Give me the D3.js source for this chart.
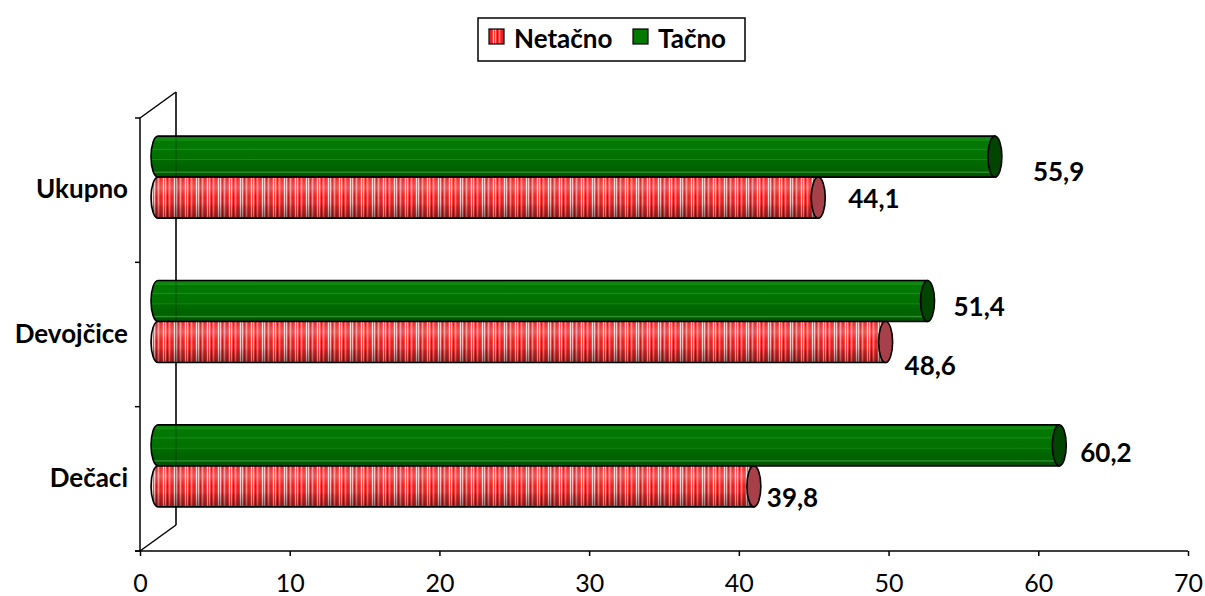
<!DOCTYPE html>
<html>
<head>
<meta charset="utf-8">
<script src="https://cdn.jsdelivr.net/npm/d3@7"></script>
<style>
  html, body { margin: 0; padding: 0; background: #fff; }
  svg { display: block; font-family: Lato, "Liberation Sans", sans-serif; }
</style>
</head>
<body>
<svg id="chart" width="1205" height="596"></svg>
<script>
// ---- data ----
const categories = ["Ukupno", "Devojčice", "Dečaci"];   // top to bottom
const seriesNames = ["Tačno", "Netačno"];                 // upper bar, lower bar
const tacno   = [55.9, 51.4, 60.2];
const netacno = [44.1, 48.6, 39.8];
const xTicks  = [0, 10, 20, 30, 40, 50, 60, 70];
const legendOrder = ["Netačno", "Tačno"];

// ---- layout ----
const W = 1205, H = 596;
const plot = { left: 140, right: 1188, top: 118, bottom: 551 };
const depth = { dx: 36, dy: -26 };          // 3-D back wall offset
const mid = { dx: depth.dx / 2, dy: depth.dy / 2 };
const barH = 41, capRx = 7;
// value label nudges relative to the bar's end cap, per series per category
const labelShift = {
  "Tačno":   [[38, 14], [26, 5], [21, 7]],
  "Netačno": [[30, 0], [19, 23], [13, 11]]
};

const svg = d3.select("#chart");
const defs = svg.append("defs");

const x = d3.scaleLinear().domain([0, 70]).range([plot.left, plot.right]);
const y = d3.scaleBand().domain(categories).range([plot.top, plot.bottom]);
const ySeries = d3.scaleBand().domain(seriesNames).range([-barH, barH]);

// ---- fills ----
const stripe = defs.append("pattern")
  .attr("id", "redStripe").attr("patternUnits", "userSpaceOnUse")
  .attr("width", 11).attr("height", 10);
stripe.append("rect").attr("width", 11).attr("height", 10).attr("fill", "#ff3c3c");
[[0, 1, "#ffb4b4"], [2, 1, "#c41414"], [4, 1, "#ff8a8a"], [6, 2, "#e02424"], [9, 1, "#ffd6d6"]]
  .forEach(([sx, sw, c]) => stripe.append("rect").attr("x", sx).attr("width", sw).attr("height", 10).attr("fill", c));

const shade = defs.append("linearGradient").attr("id", "shade")
  .attr("x1", 0).attr("y1", 0).attr("x2", 0).attr("y2", 1);
[[0, "#fff", 0.05], [0.25, "#fff", 0.25], [0.5, "#fff", 0.0], [0.72, "#000", 0.15], [1, "#000", 0.4]]
  .forEach(([o, c, a]) => shade.append("stop").attr("offset", o).attr("stop-color", c).attr("stop-opacity", a));

const green = defs.append("linearGradient").attr("id", "greenGrad")
  .attr("x1", 0).attr("y1", 0).attr("x2", 0).attr("y2", 1);
[[0, "#067e06"], [0.1, "#168c16"], [0.12, "#037703"], [0.3, "#047804"], [0.32, "#229122"], [0.34, "#027402"],
 [0.55, "#017001"], [0.57, "#188618"], [0.59, "#006c00"], [0.85, "#006000"], [0.88, "#339433"], [0.91, "#005a00"], [1, "#005200"]]
  .forEach(([o, c]) => green.append("stop").attr("offset", o).attr("stop-color", c));

const fills = {
  "Tačno":   { body: "url(#greenGrad)", overlay: null, cap: "#004400", swatch: "#007a00" },
  "Netačno": { body: "url(#redStripe)", overlay: "url(#shade)", cap: "#a8404a", swatch: "url(#redStripe)" }
};

// ---- 3-D frame: back wall edge and floor/top diagonals ----
const frame = svg.append("g").attr("stroke", "#000").attr("stroke-width", 1.5).attr("fill", "none");
frame.append("line").attr("x1", plot.left + depth.dx).attr("x2", plot.left + depth.dx)
  .attr("y1", plot.top + depth.dy).attr("y2", plot.bottom + depth.dy);
frame.append("line").attr("x1", plot.left).attr("y1", plot.top)
  .attr("x2", plot.left + depth.dx).attr("y2", plot.top + depth.dy);
frame.append("line").attr("x1", plot.left).attr("y1", plot.bottom)
  .attr("x2", plot.left + depth.dx).attr("y2", plot.bottom + depth.dy);

// ---- cylinders ----
const seriesValues = { "Tačno": tacno, "Netačno": netacno };
const bars = [];
seriesNames.forEach(s => categories.forEach((c, i) => bars.push({ s, c, i, v: seriesValues[s][i] })));

function bodyPath(x0, x1, yt, h) {
  const ry = h / 2;
  return `M${x1},${yt} L${x0},${yt} A${capRx},${ry} 0 0 0 ${x0},${yt + h} L${x1},${yt + h} Z`;
}

const barG = svg.append("g");
bars.forEach(d => {
  const x0 = x(0) + mid.dx;
  const x1 = x(d.v) + mid.dx;
  const yt = y(d.c) + y.bandwidth() / 2 + mid.dy + ySeries(d.s);
  const f = fills[d.s];
  const g = barG.append("g");
  g.append("path").attr("d", bodyPath(x0, x1, yt, barH)).attr("fill", f.body);
  if (f.overlay) g.append("path").attr("d", bodyPath(x0, x1, yt, barH)).attr("fill", f.overlay);
  g.append("path").attr("d", bodyPath(x0, x1, yt, barH))
    .attr("fill", "none").attr("stroke", "#000").attr("stroke-width", 1.6);
  g.append("ellipse").attr("cx", x1).attr("cy", yt + barH / 2).attr("rx", capRx).attr("ry", barH / 2)
    .attr("fill", f.cap).attr("stroke", "#000").attr("stroke-width", 1.6);
  d.capX = x1; d.cy = yt + barH / 2;
});

// back wall edge shows faintly through the bars
svg.append("line").attr("x1", plot.left + depth.dx).attr("x2", plot.left + depth.dx)
  .attr("y1", plot.top + depth.dy).attr("y2", plot.bottom + depth.dy)
  .attr("stroke", "#000").attr("stroke-opacity", 0.25).attr("stroke-width", 1.2);

// ---- value labels ----
svg.append("g").selectAll("text").data(bars).join("text")
  .attr("x", d => d.capX + labelShift[d.s][d.i][0])
  .attr("y", d => d.cy + labelShift[d.s][d.i][1])
  .attr("dominant-baseline", "central")
  .attr("font-size", 26).attr("font-weight", "bold").attr("fill", "#000")
  .text(d => d3.format(".1f")(d.v).replace(".", ","));

// ---- axes ----
const xAxis = svg.append("g").attr("transform", `translate(0,${plot.bottom})`)
  .call(d3.axisBottom(x).tickValues(xTicks).tickSize(5).tickPadding(18).tickFormat(d3.format("d")));
xAxis.select(".domain").attr("d", `M${plot.left - 5},0H${plot.right}`).attr("stroke-width", 1.5);
xAxis.selectAll(".tick line").attr("stroke-width", 1.5);
xAxis.selectAll("text").attr("font-size", 25).attr("font-family", "Lato, sans-serif").attr("fill", "#000");

const yAxis = svg.append("g").attr("transform", `translate(${plot.left},0)`)
  .call(d3.axisLeft(y).tickSize(0).tickPadding(12));
yAxis.select(".domain").attr("d", `M0,${plot.top}V${plot.bottom}`).attr("stroke-width", 1.5);
yAxis.selectAll("text").attr("font-size", 26).attr("font-weight", "bold")
  .attr("font-family", "Lato, sans-serif").attr("fill", "#000");
// tick marks at band boundaries
const bounds = categories.map(c => y(c)).concat([plot.bottom]);
yAxis.append("g").selectAll("line").data(bounds).join("line")
  .attr("x1", -5).attr("x2", 0).attr("y1", d => d).attr("y2", d => d)
  .attr("stroke", "#000").attr("stroke-width", 1.5);

// ---- legend ----
const legend = svg.append("g");
legend.append("rect").attr("x", 478).attr("y", 18).attr("width", 267).attr("height", 43)
  .attr("fill", "#fff").attr("stroke", "#000").attr("stroke-width", 1.5);
const legendPos = { "Netačno": 489, "Tačno": 633 };
legendOrder.forEach(s => {
  const lx = legendPos[s];
  legend.append("rect").attr("x", lx).attr("y", 29).attr("width", 15).attr("height", 15)
    .attr("fill", fills[s].swatch).attr("stroke", "#000").attr("stroke-width", 1.2);
  legend.append("text").attr("x", lx + 25).attr("y", 38).attr("dominant-baseline", "central")
    .attr("font-size", 26).attr("font-weight", "bold").attr("fill", "#000").text(s);
});
</script>
</body>
</html>
